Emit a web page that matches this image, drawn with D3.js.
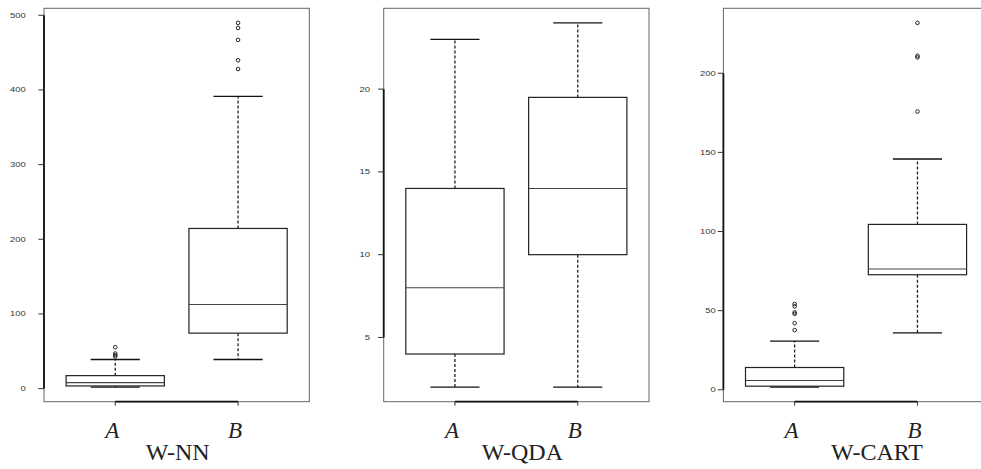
<!DOCTYPE html>
<html>
<head>
<meta charset="utf-8">
<script src="https://cdn.jsdelivr.net/npm/d3@7"></script>
<style>
  html, body { margin: 0; padding: 0; background: #fff; }
  svg { display: block; }
  svg text.serif { font-family: "Liberation Serif", "Times New Roman", serif; }
  svg text.sans { font-family: "Liberation Sans", Arial, sans-serif; }
</style>
</head>
<body>
<div id="chart"></div>
<script>
// group labels on the x axis of every panel
const groups = ['A', 'B'];
const panelTitles = ['W-NN', 'W-QDA', 'W-CART'];

// five-number boxes per group: [lower whisker, q1, median, q3, upper whisker]
const wnnBoxes = [[2, 3.6, 8, 17.4, 39], [39, 74.3, 112.6, 214.5, 391.4]];
const wqdaBoxes = [[2, 4, 8, 14, 23], [2, 10, 14, 19.5, 24]];
const wcartBoxes = [[1.7, 2.3, 5.9, 14.1, 30.8], [36, 72.7, 76.3, 104.5, 145.8]];

// outliers per group
const wnnOutliers = [[43, 44.8, 47, 55.5], [428, 439.7, 467, 483, 489.8]];
const wqdaOutliers = [[], []];
const wcartOutliers = [[37.7, 42.1, 48, 48.9, 52.7, 54.2], [175.8, 210, 211, 231.8]];

// y tick labels per panel
const wnnTicks = [0, 100, 200, 300, 400, 500];
const wqdaTicks = [5, 10, 15, 20];
const wcartTicks = [0, 50, 100, 150, 200];

const panels = [
  { title: panelTitles[0], boxes: wnnBoxes, outliers: wnnOutliers, ticks: wnnTicks },
  { title: panelTitles[1], boxes: wqdaBoxes, outliers: wqdaOutliers, ticks: wqdaTicks },
  { title: panelTitles[2], boxes: wcartBoxes, outliers: wcartOutliers, ticks: wcartTicks },
];

const WIDTH = 981;
const HEIGHT = 469;
const FIG_W = 339.7;            // each panel's figure region (last one runs off the page)
const M = { left: 44, right: 30.4, top: 8.3, bottom: 67.3 };
const LABEL_GAP = [12.7, 8, 2]; // space between tick and tick label, per panel
const TITLE_DX = [1, 6, 21];    // hand-placed panel titles

const svg = d3.select('#chart')
  .append('svg')
  .attr('width', WIDTH)
  .attr('height', HEIGHT)
  .attr('viewBox', `0 0 ${WIDTH} ${HEIGHT}`);

const innerW = FIG_W - M.left - M.right;
const innerH = HEIGHT - M.top - M.bottom;

panels.forEach((p, i) => {
  const g = svg.append('g')
    .attr('transform', `translate(${i * FIG_W + M.left},${M.top})`);

  // R style range: data extent padded by 4% on each side
  const all = p.boxes.flat().concat(p.outliers.flat());
  const [lo, hi] = d3.extent(all);
  const pad = (hi - lo) * 0.04;
  const y = d3.scaleLinear().domain([lo - pad, hi + pad]).range([innerH, 0]);

  // boxes sit at 1..n, xlim 0.5..n+0.5 padded by 4%
  const n = groups.length;
  const xPad = n * 0.04;
  const x = d3.scaleLinear().domain([0.5 - xPad, n + 0.5 + xPad]).range([0, innerW]);
  const boxW = x(1.8) - x(1);   // boxwex 0.8
  const capW = boxW / 2;        // staplewex 0.5

  // plot frame
  g.append('rect')
    .attr('x', 0).attr('y', 0)
    .attr('width', innerW).attr('height', innerH)
    .attr('fill', 'none')
    .attr('stroke', '#666')
    .attr('stroke-width', 1);

  // y axis: heavy line from first to last tick, short ticks, small labels
  const t0 = d3.min(p.ticks), t1 = d3.max(p.ticks);
  g.append('line')
    .attr('x1', 0).attr('x2', 0)
    .attr('y1', y(t0)).attr('y2', y(t1))
    .attr('stroke', '#111').attr('stroke-width', 1.8);
  const yt = g.selectAll('.ytick').data(p.ticks).join('g')
    .attr('class', 'ytick')
    .attr('transform', (d) => `translate(0,${y(d)})`);
  yt.append('line')
    .attr('x1', -5.6).attr('x2', 0)
    .attr('stroke', '#333').attr('stroke-width', 1);
  yt.append('text')
    .attr('class', 'sans')
    .attr('transform', `translate(${-5.6 - LABEL_GAP[i]},0) scale(1.35,1)`)
    .attr('text-anchor', 'end')
    .attr('dominant-baseline', 'central')
    .attr('font-size', 7)
    .attr('fill', '#333')
    .text((d) => d);

  // x axis: heavy line between the two group ticks
  g.append('line')
    .attr('x1', x(1)).attr('x2', x(n))
    .attr('y1', innerH).attr('y2', innerH)
    .attr('stroke', '#111').attr('stroke-width', 1.8);
  g.selectAll('.xtick').data(groups).join('line')
    .attr('class', 'xtick')
    .attr('x1', (d, j) => x(j + 1)).attr('x2', (d, j) => x(j + 1))
    .attr('y1', innerH).attr('y2', innerH + 4)
    .attr('stroke', '#333').attr('stroke-width', 1);
  g.selectAll('.xlab').data(groups).join('text')
    .attr('class', 'xlab serif')
    .attr('x', (d, j) => x(j + 1) - 3)
    .attr('y', innerH + 36)
    .attr('text-anchor', 'middle')
    .attr('font-style', 'italic')
    .attr('font-size', 23)
    .attr('fill', '#222')
    .text((d) => d);

  // panel title under the axis labels
  g.append('text')
    .attr('class', 'serif')
    .attr('x', innerW / 2 + TITLE_DX[i])
    .attr('y', innerH + 58)
    .attr('text-anchor', 'middle')
    .attr('font-size', 24)
    .attr('fill', '#222')
    .text(p.title);

  // boxes
  const bx = g.selectAll('.box').data(p.boxes).join('g')
    .attr('class', 'box')
    .attr('transform', (d, j) => `translate(${x(j + 1)},0)`);

  // dashed whiskers
  bx.append('line')
    .attr('y1', (d) => y(d[3])).attr('y2', (d) => y(d[4]))
    .attr('stroke', '#222').attr('stroke-width', 1.3)
    .attr('stroke-dasharray', '3,2');
  bx.append('line')
    .attr('y1', (d) => y(d[1])).attr('y2', (d) => y(d[0]))
    .attr('stroke', '#222').attr('stroke-width', 1.3)
    .attr('stroke-dasharray', '3,2');

  // staples
  bx.selectAll('.cap').data((d) => [d[0], d[4]]).join('line')
    .attr('class', 'cap')
    .attr('x1', -capW / 2).attr('x2', capW / 2)
    .attr('y1', (v) => y(v)).attr('y2', (v) => y(v))
    .attr('stroke', '#111').attr('stroke-width', 1.3);

  bx.append('rect')
    .attr('x', -boxW / 2)
    .attr('width', boxW)
    .attr('y', (d) => y(d[3]))
    .attr('height', (d) => y(d[1]) - y(d[3]))
    .attr('fill', '#fff')
    .attr('stroke', '#222').attr('stroke-width', 1.2);

  bx.append('line')
    .attr('x1', -boxW / 2).attr('x2', boxW / 2)
    .attr('y1', (d) => y(d[2])).attr('y2', (d) => y(d[2]))
    .attr('stroke', '#444').attr('stroke-width', 1.1);

  // outlier circles
  bx.each(function (d, j) {
    d3.select(this).selectAll('circle').data(p.outliers[j]).join('circle')
      .attr('cx', 0)
      .attr('cy', (v) => y(v))
      .attr('r', 1.8)
      .attr('fill', 'none')
      .attr('stroke', '#222')
      .attr('stroke-width', 1);
  });
});
</script>
</body>
</html>
